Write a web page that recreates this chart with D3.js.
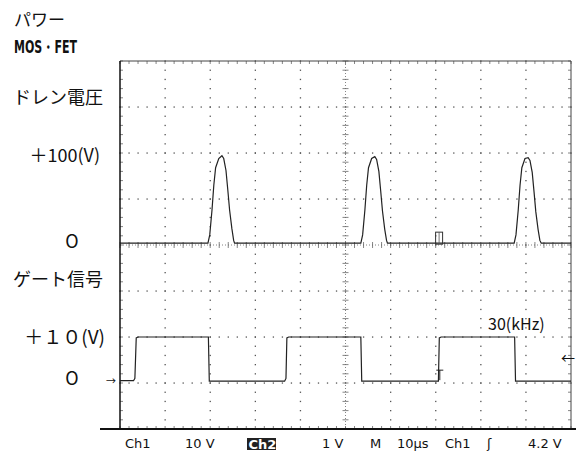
<!DOCTYPE html>
<html>
<meta charset=utf-8>
<head>
<script src="https://cdn.jsdelivr.net/npm/d3@7"></script>
<style>
  body { margin: 0; background: #fff; }
  text { font-family: "Noto Sans CJK JP", "Noto Sans", sans-serif; fill: #111; }
  .cond { font-family: "DejaVu Sans Condensed", "DejaVu Sans"; font-weight: bold; }
  .foot { font-family: "DejaVu Sans", sans-serif; font-size: 13px; }
</style>
</head>
<body>
<script>
// time axis: 10 div x 10us, vertical: 8 div
var timeTicks = [0, 10, 20, 30, 40, 50, 60, 70, 80, 90, 100];
var divTicks = [-4, -3, -2, -1, 0, 1, 2, 3, 4];

// Ch1 drain voltage (us, V), 50 V/div, ground marker a bit above centre
var ch1Scale = 50, ch1Ground = 0.04;
var drainT = [0, 19.5, 19.9, 20.4, 20.8, 21.2, 21.9, 22.6, 23.0, 23.5, 23.9, 24.3, 24.8, 25.2, 25.4,
              53.4, 53.8, 54.3, 54.7, 55.1, 55.8, 56.5, 56.9, 57.4, 57.8, 58.2, 58.7, 59.1, 59.3,
              87.4, 87.8, 88.3, 88.7, 89.1, 89.8, 90.5, 90.9, 91.4, 91.8, 92.2, 92.7, 93.1, 93.4, 100];
var drainV = [0, 0, 9, 36, 63, 82, 92, 95, 92, 79, 58, 36, 16, 3, 0,
              0, 9, 36, 63, 82, 92, 94, 91, 78, 57, 35, 15, 3, 0,
              0, 9, 36, 63, 82, 92, 93, 90, 77, 56, 34, 15, 3, 0, 0];

// Ch2 gate signal (us, V), 10 V/div
var ch2Scale = 10, ch2Ground = -2.96;
var gateT = [0, 3.0, 3.3, 3.6, 4.0, 19.6, 19.8, 36.5, 36.8, 37.0, 37.4, 53.4, 53.6,
             70.6, 70.8, 71.2, 87.5, 87.7, 100];
var gateV = [0.1, 0.1, 0.6, 9.4, 9.6, 9.6, 0, 0, 0.6, 9.4, 9.6, 9.6, 0,
             0, 9.4, 9.6, 9.6, 0, 0];

var leftLabels = ["パワー", "MOS・FET", "ドレン電圧", "＋100(V)", "O", "ゲート信号", "＋１０(V)", "O"];
var footLabels = ["Ch1", "10 V", "Ch2", "1 V", "M", "10µs", "Ch1", "ʃ", "4.2 V"];
var freqLabel = "30(kHz)";

var svg = d3.select("body").append("svg").attr("width", 576).attr("height", 452);

var xs = d3.scaleLinear().domain([0, 100]).range([120, 571]);
var ys = d3.scaleLinear().domain([-4, 4]).range([429, 61]);

// grid dots every 1/5 division along each grid line
var g = svg.append("g").attr("fill", "#555");
var minorT = d3.range(0, 100.01, 2);
var minorD = d3.range(-4, 4.01, 0.2);
timeTicks.slice(1, -1).forEach(function(t) {
  if (t == 50) return;
  minorD.forEach(function(d) {
    g.append("rect").attr("x", xs(t) - 0.6).attr("y", ys(d) - 0.6).attr("width", 1.3).attr("height", 1.3);
  });
});
divTicks.slice(1, -1).forEach(function(d) {
  if (d == 0) return;
  minorT.forEach(function(t) {
    g.append("rect").attr("x", xs(t) - 0.6).attr("y", ys(d) - 0.6).attr("width", 1.3).attr("height", 1.3);
  });
});

// centre cross with minor ticks
var c = svg.append("g").attr("stroke", "#666").attr("stroke-width", 0.8);
minorD.forEach(function(d) {
  c.append("line").attr("x1", xs(50) - 3).attr("x2", xs(50) + 3).attr("y1", ys(d)).attr("y2", ys(d));
  c.append("line").attr("x1", xs(0)).attr("x2", xs(0) + 3).attr("y1", ys(d)).attr("y2", ys(d));
  c.append("line").attr("x1", xs(100) - 3).attr("x2", xs(100)).attr("y1", ys(d)).attr("y2", ys(d));
});
minorT.forEach(function(t) {
  c.append("line").attr("x1", xs(t)).attr("x2", xs(t)).attr("y1", ys(0) - 3).attr("y2", ys(0) + 3);
  c.append("line").attr("x1", xs(t)).attr("x2", xs(t)).attr("y1", ys(4)).attr("y2", ys(4) + 3);
  c.append("line").attr("x1", xs(t)).attr("x2", xs(t)).attr("y1", ys(-4) - 3).attr("y2", ys(-4));
});
c.append("line").attr("x1", xs(50)).attr("x2", xs(50)).attr("y1", ys(4)).attr("y2", ys(-4)).attr("stroke-dasharray", "1,2");
c.append("line").attr("x1", xs(0)).attr("x2", xs(100)).attr("y1", ys(0)).attr("y2", ys(0)).attr("stroke-dasharray", "1,2");

// borders
svg.append("line").attr("x1", xs(0)).attr("x2", xs(100)).attr("y1", ys(4)).attr("y2", ys(4)).attr("stroke", "#444").attr("stroke-width", 1);
svg.append("line").attr("x1", xs(100)).attr("x2", xs(100)).attr("y1", ys(4)).attr("y2", ys(-4)).attr("stroke", "#444").attr("stroke-width", 1);
svg.append("line").attr("x1", xs(0)).attr("x2", xs(0)).attr("y1", ys(4)).attr("y2", ys(-4)).attr("stroke", "#111").attr("stroke-width", 1.5);
svg.append("line").attr("x1", 100).attr("x2", 576).attr("y1", ys(-4)).attr("y2", ys(-4)).attr("stroke", "#111").attr("stroke-width", 2);

// traces
var line = d3.line();
svg.append("path")
  .attr("d", line(drainT.map(function(t, i) { return [xs(t), ys(drainV[i] / ch1Scale + ch1Ground)]; })))
  .attr("fill", "none").attr("stroke", "#222").attr("stroke-width", 1.2);
svg.append("path")
  .attr("d", line(gateT.map(function(t, i) { return [xs(t), ys(gateV[i] / ch2Scale + ch2Ground)]; })))
  .attr("fill", "none").attr("stroke", "#222").attr("stroke-width", 1.2);

// markers
svg.append("rect").attr("x", xs(70.2) - 1).attr("y", ys(ch1Ground) - 11).attr("width", 7).attr("height", 12)
  .attr("fill", "none").attr("stroke", "#333").attr("stroke-width", 1);
svg.append("line").attr("x1", xs(70.2) + 2.5).attr("x2", xs(70.2) + 2.5).attr("y1", ys(ch1Ground) - 11).attr("y2", ys(ch1Ground) + 1)
  .attr("stroke", "#555").attr("stroke-width", 0.8);
svg.append("path").attr("d", "M" + (xs(70.8) - 3) + "," + (ys(ch2Ground) - 11) + "h7M" + (xs(70.8) + 0.5) + "," + (ys(ch2Ground) - 11) + "v10")
  .attr("stroke", "#222").attr("fill", "none");
svg.append("text").attr("x", 106).attr("y", ys(ch2Ground) + 4).style("font-size", "10px").text("→");
svg.append("text").attr("x", 561).attr("y", ys(ch2Ground + 0.5) + 5).style("font-size", "14px").text("←");

// left labels
svg.append("text").attr("x", 14).attr("y", 26).style("font-size", "17px").text(leftLabels[0]);
svg.append("text").attr("x", 14).attr("y", 53).attr("class", "cond").style("font-size", "17px")
  .attr("textLength", 63).attr("lengthAdjust", "spacingAndGlyphs").text(leftLabels[1]);
svg.append("text").attr("x", 13).attr("y", 104).style("font-size", "18px").text(leftLabels[2]);
svg.append("text").attr("x", 100).attr("y", 162).attr("text-anchor", "end").style("font-size", "18px").text(leftLabels[3]);
svg.append("text").attr("x", 72).attr("y", 248).attr("text-anchor", "middle").style("font-size", "18px").text(leftLabels[4]);
svg.append("text").attr("x", 13).attr("y", 286).style("font-size", "18px").text(leftLabels[5]);
svg.append("text").attr("x", 105).attr("y", 344).attr("text-anchor", "end").style("font-size", "19px").text(leftLabels[6]);
svg.append("text").attr("x", 72).attr("y", 385).attr("text-anchor", "middle").style("font-size", "18px").text(leftLabels[7]);
svg.append("text").attr("x", 488).attr("y", 330).style("font-size", "16px").text(freqLabel);

// footer readout
var footX = [125, 185, 248, 322, 370, 397, 445, 487, 528];
footLabels.forEach(function(s, i) {
  if (i == 2) {
    svg.append("rect").attr("x", footX[i] - 1).attr("y", 438).attr("width", 29).attr("height", 12).attr("fill", "#222");
    svg.append("text").attr("x", footX[i] + 0.5).attr("y", 448.5).attr("class", "foot").style("fill", "#fff").style("font-weight", "bold").text(s);
  } else {
    svg.append("text").attr("x", footX[i]).attr("y", 448).attr("class", "foot").text(s);
  }
});
</script>
</body>
</html>
